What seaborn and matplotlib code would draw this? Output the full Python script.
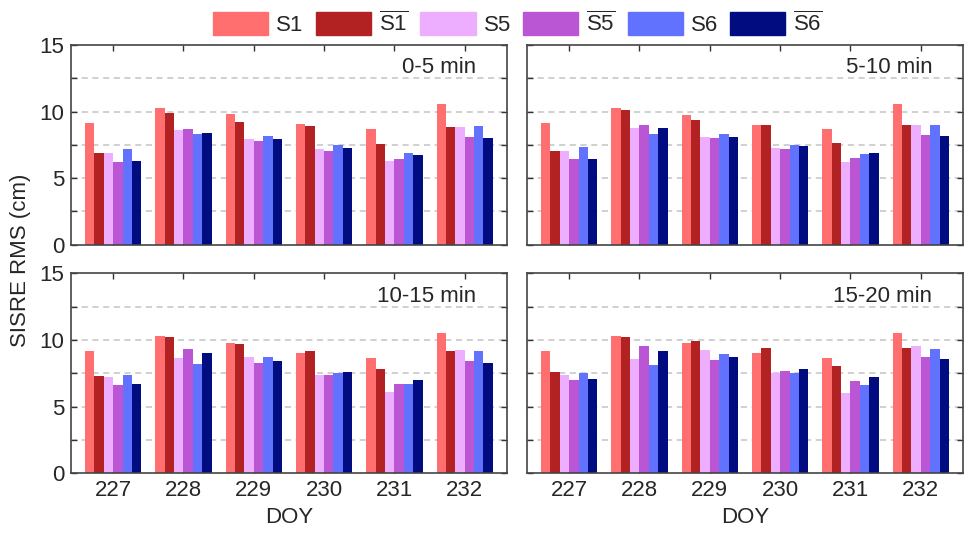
import matplotlib
matplotlib.use('Agg')
import matplotlib.pyplot as plt
import pandas as pd
import seaborn as sns

# ======== data ========
doy = ['227', '228', '229', '230', '231', '232']
series = ['S1', r'$\overline{\mathrm{S1}}$', 'S5', r'$\overline{\mathrm{S5}}$',
          'S6', r'$\overline{\mathrm{S6}}$']
colors = ['#FF6F6F', '#B22222', '#EEAEFF', '#BA55D3', '#6172FF', '#000C80']
windows = ['0-5 min', '5-10 min', '10-15 min', '15-20 min']

# values per window: one list per series, 6 DOYs each
w0_5 = [
    [9.1, 10.3, 9.8, 9.05, 8.7, 10.55],
    [6.85, 9.9, 9.25, 8.9, 7.55, 8.8],
    [6.9, 8.6, 7.9, 7.2, 6.3, 8.8],
    [6.2, 8.7, 7.8, 7.05, 6.4, 8.1],
    [7.2, 8.3, 8.15, 7.5, 6.9, 8.9],
    [6.25, 8.4, 7.9, 7.25, 6.7, 8.0],
]
w5_10 = [
    [9.1, 10.3, 9.75, 9.0, 8.7, 10.55],
    [7.0, 10.1, 9.4, 9.0, 7.65, 8.95],
    [7.0, 8.75, 8.1, 7.25, 6.2, 9.0],
    [6.4, 9.0, 8.0, 7.2, 6.5, 8.2],
    [7.3, 8.3, 8.3, 7.5, 6.8, 9.0],
    [6.4, 8.75, 8.1, 7.4, 6.9, 8.15],
]
w10_15 = [
    [9.15, 10.3, 9.8, 9.05, 8.65, 10.55],
    [7.3, 10.2, 9.7, 9.2, 7.85, 9.15],
    [7.2, 8.65, 8.7, 7.35, 6.1, 9.25],
    [6.65, 9.3, 8.25, 7.4, 6.7, 8.4],
    [7.4, 8.2, 8.7, 7.5, 6.7, 9.15],
    [6.7, 9.0, 8.4, 7.6, 7.0, 8.3],
]
w15_20 = [
    [9.15, 10.3, 9.75, 9.05, 8.65, 10.55],
    [7.6, 10.2, 9.95, 9.4, 8.05, 9.4],
    [7.4, 8.6, 9.25, 7.5, 6.0, 9.55],
    [7.0, 9.55, 8.5, 7.65, 6.9, 8.7],
    [7.5, 8.15, 8.95, 7.55, 6.6, 9.3],
    [7.05, 9.2, 8.7, 7.85, 7.2, 8.6],
]
panel_values = [w0_5, w5_10, w10_15, w15_20]

# ======== style ========
sns.set_style('ticks')
plt.rcParams['font.family'] = ['Liberation Sans', 'DejaVu Sans']
plt.rcParams['mathtext.fontset'] = 'custom'
plt.rcParams['mathtext.rm'] = 'Liberation Sans'
plt.rcParams['mathtext.it'] = 'Liberation Sans:italic'
plt.rcParams['mathtext.bf'] = 'Liberation Sans:bold'

fig, axes = plt.subplots(2, 2, figsize=(9.68, 5.34), dpi=100, sharey=True)
fig.subplots_adjust(left=0.0733, right=0.9948, top=0.9157, bottom=0.1142,
                    wspace=0.046, hspace=0.145)

for i, (ax, vals, win) in enumerate(zip(axes.flat, panel_values, windows)):
    rows = []
    for name, sv in zip(series, vals):
        for d, v in zip(doy, sv):
            rows.append({'DOY': d, 'series': name, 'value': v})
    df = pd.DataFrame(rows)

    sns.barplot(data=df, x='DOY', y='value', hue='series', hue_order=series,
                order=doy, palette=colors, saturation=1, width=0.8,
                linewidth=0, legend=False, ax=ax)

    ax.set_xlim(-0.6, 5.6)
    ax.set_ylim(0, 15)
    ax.set_yticks([0, 2.5, 5, 7.5, 10, 12.5, 15])
    ax.set_yticklabels(['0', '', '5', '', '10', '', '15'])
    for y in [2.5, 5, 7.5, 10, 12.5]:
        ax.axhline(y, color='#c4c4c4', lw=1.1, ls=(0, (4, 3)), zorder=0)

    ax.xaxis.set_ticks_position('both')
    ax.yaxis.set_ticks_position('both')
    ax.tick_params(direction='in', length=4, width=1, color='#333333',
                   labelsize=16, pad=5)
    for sp in ax.spines.values():
        sp.set_color('#444444')
        sp.set_linewidth(1.2)

    ax.set_ylabel('')
    if i < 2:
        ax.set_xlabel('')
        ax.tick_params(labelbottom=False)
    else:
        ax.set_xlabel('DOY', fontsize=16, labelpad=4)
    if i % 2 == 1:
        ax.tick_params(labelleft=False)

    ax.text(0.93, 0.885, win, transform=ax.transAxes, ha='right',
            va='center', fontsize=16)

fig.text(0.021, 0.513, 'SISRE RMS (cm)', rotation=90, ha='center',
         va='center', fontsize=16)

handles = [plt.Rectangle((0, 0), 1, 1, color=c) for c in colors]
fig.legend(handles, series, loc='center', bbox_to_anchor=(0.535, 0.956),
           ncol=6, frameon=False, fontsize=16, handlelength=2.48,
           handleheight=1.2, handletextpad=0.36, columnspacing=0.55,
           borderaxespad=0)

fig.savefig('out.png', dpi=100)
